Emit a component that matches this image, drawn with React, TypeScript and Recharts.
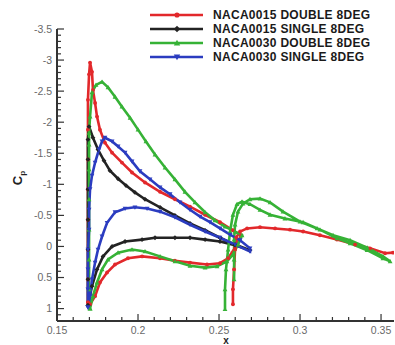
import React from 'react'
import { LineChart, Line, XAxis, YAxis, Legend } from 'recharts'

type Pt = [number, number]

// x, Cp pairs (loops: upper surface LE->TE, lower TE->LE)
const N15D_MAIN: Pt[] = [
  [0.1691, 0.9], [0.1691, 0.53], [0.1691, 0.05], [0.1691, -0.43], [0.1691, -0.92],
  [0.1691, -1.4], [0.1691, -1.88], [0.1691, -2.36], [0.1698, -2.77], [0.1704, -2.96],
  [0.1716, -2.81], [0.1722, -2.52], [0.1735, -2.31], [0.1747, -2.09], [0.1765, -1.88],
  [0.1796, -1.67], [0.184, -1.51], [0.1901, -1.35], [0.1963, -1.19], [0.2043, -1.03],
  [0.2136, -0.88], [0.2228, -0.76], [0.2321, -0.64], [0.2414, -0.51], [0.2506, -0.39],
  [0.2586, -0.26], [0.2636, -0.18],
  [0.2599, 0.02], [0.2556, 0.19], [0.2506, 0.27], [0.2426, 0.29], [0.2321, 0.26],
  [0.2228, 0.23], [0.2136, 0.19], [0.2025, 0.16], [0.1938, 0.19], [0.1858, 0.29],
  [0.1809, 0.42], [0.1765, 0.58], [0.1735, 0.8], [0.1704, 0.93], [0.1691, 0.9],
]
const N15D_FLAP: Pt[] = [
  [0.2586, 0.93], [0.2586, 0.69], [0.2593, 0.37], [0.2599, 0.05], [0.2605, -0.14],
  [0.263, -0.24], [0.2673, -0.29], [0.2753, -0.31], [0.2846, -0.29], [0.2938, -0.27],
  [0.3019, -0.24], [0.3123, -0.18], [0.3228, -0.11], [0.334, -0.03], [0.3432, 0.03],
  [0.3525, 0.11], [0.3574, 0.1],
]
const N15S: Pt[] = [
  [0.1691, 0.95], [0.1691, 0.53], [0.1691, 0.05], [0.1691, -0.43], [0.1691, -0.92],
  [0.1691, -1.4], [0.1691, -1.72], [0.1698, -1.93], [0.1722, -1.75], [0.1753, -1.56],
  [0.179, -1.38], [0.1827, -1.22], [0.1877, -1.09], [0.1926, -0.98], [0.1981, -0.87],
  [0.2043, -0.76], [0.2136, -0.63], [0.2228, -0.5], [0.2321, -0.37], [0.2414, -0.26],
  [0.2506, -0.14], [0.2599, -0.03], [0.2691, 0.06],
  [0.2599, -0.02], [0.2506, -0.08], [0.2414, -0.11], [0.2321, -0.14], [0.2228, -0.14],
  [0.2105, -0.14], [0.2025, -0.11], [0.192, -0.08], [0.184, 0.0], [0.1784, 0.16],
  [0.1747, 0.37], [0.1716, 0.64], [0.1691, 0.95],
]
const N30D_MAIN: Pt[] = [
  [0.1704, 1.0], [0.1698, 0.69], [0.1698, 0.21], [0.1698, -0.27], [0.1698, -0.76],
  [0.1698, -1.24], [0.1698, -1.64], [0.1698, -1.83], [0.1704, -2.09], [0.1716, -2.48],
  [0.1741, -2.6], [0.1778, -2.65], [0.1815, -2.56], [0.1858, -2.41], [0.1901, -2.25],
  [0.1951, -2.07], [0.2, -1.88], [0.2049, -1.69], [0.2105, -1.48], [0.2167, -1.27],
  [0.2228, -1.08], [0.229, -0.88], [0.2352, -0.71], [0.2414, -0.55], [0.2475, -0.42],
  [0.2537, -0.32], [0.2599, -0.24], [0.2642, -0.18],
  [0.2617, -0.03], [0.2586, 0.13], [0.2549, 0.24], [0.2488, 0.32], [0.2414, 0.34],
  [0.2321, 0.31], [0.2228, 0.24], [0.2136, 0.16], [0.2043, 0.08], [0.1963, 0.05],
  [0.1877, 0.1], [0.1815, 0.21], [0.1778, 0.37], [0.1747, 0.58], [0.1722, 0.8],
  [0.1704, 1.0],
]
const N30D_FLAP: Pt[] = [
  [0.2537, 1.01], [0.2537, 0.69], [0.2543, 0.37], [0.2556, 0.05], [0.2568, -0.24],
  [0.2586, -0.51], [0.2611, -0.68], [0.2642, -0.72], [0.2691, -0.68], [0.2753, -0.59],
  [0.2815, -0.51], [0.2907, -0.45], [0.3019, -0.39], [0.3123, -0.27], [0.3228, -0.13],
  [0.3309, -0.05], [0.3414, 0.06], [0.3512, 0.19], [0.3556, 0.24],
  [0.3512, 0.16], [0.3414, 0.02], [0.3309, -0.1], [0.3204, -0.18], [0.3105, -0.29],
  [0.3, -0.4], [0.2895, -0.56], [0.2815, -0.71], [0.2753, -0.77], [0.2691, -0.76],
  [0.2648, -0.69], [0.2617, -0.56], [0.2599, -0.35], [0.2593, -0.11], [0.2593, 0.21],
  [0.2593, 0.53],
]
const N30S: Pt[] = [
  [0.1691, 0.98], [0.1691, 0.69], [0.1691, 0.37], [0.1691, 0.05], [0.1698, -0.27],
  [0.1698, -0.59], [0.1704, -0.92], [0.1716, -1.14], [0.1735, -1.35], [0.1759, -1.56],
  [0.1778, -1.69], [0.1796, -1.75], [0.184, -1.69], [0.1877, -1.61], [0.192, -1.51],
  [0.1963, -1.37], [0.2012, -1.21], [0.2074, -1.08], [0.2136, -0.95], [0.2198, -0.84],
  [0.2259, -0.71], [0.2321, -0.59], [0.2383, -0.48], [0.2444, -0.39], [0.2506, -0.29],
  [0.2568, -0.19], [0.263, -0.1], [0.2691, 0.03],
  [0.2691, 0.08], [0.2599, -0.03], [0.2506, -0.14], [0.2414, -0.24], [0.2321, -0.35],
  [0.2228, -0.47], [0.2136, -0.56], [0.2056, -0.61], [0.1981, -0.63], [0.192, -0.61],
  [0.1858, -0.55], [0.1809, -0.38], [0.1778, -0.16], [0.1753, 0.05], [0.1735, 0.26],
  [0.1716, 0.53], [0.1704, 0.8], [0.1691, 0.98],
]

const X_TICKS = [0.15, 0.2, 0.25, 0.3, 0.35]
const Y_TICKS = [-3.5, -3, -2.5, -2, -1.5, -1, -0.5, 0, 0.5, 1]

// join segments with a null row so the line breaks between elements
const toRows = (...segs: Pt[][]) =>
  segs.flatMap((s, i) => {
    const rows: { x: number; cp: number | null }[] = s.map(([x, cp]) => ({ x, cp }))
    if (i < segs.length - 1) rows.push({ x: s[s.length - 1][0], cp: null })
    return rows
  })

const SERIES = [
  { name: 'NACA0015 DOUBLE 8DEG', color: '#e2282b', shape: 'circle', rows: toRows(N15D_MAIN, N15D_FLAP) },
  { name: 'NACA0015 SINGLE 8DEG', color: '#232323', shape: 'diamond', rows: toRows(N15S) },
  { name: 'NACA0030 DOUBLE 8DEG', color: '#36b236', shape: 'up', rows: toRows(N30D_MAIN, N30D_FLAP) },
  { name: 'NACA0030 SINGLE 8DEG', color: '#2b3cc0', shape: 'down', rows: toRows(N30S) },
]

const withMinors = (majors: number[], n: number, extra: number[] = []) => {
  const out: number[] = []
  majors.forEach((m, i) => {
    out.push(m)
    if (i < majors.length - 1) {
      const step = (majors[i + 1] - m) / n
      for (let k = 1; k < n; k++) out.push(m + k * step)
    }
  })
  return [...out, ...extra]
}

const isMajor = (list: number[], v: number) => list.find(t => Math.abs(t - v) < 1e-6)

const marker = (shape: string, cx: number, cy: number, s: number, color: string) => {
  if (shape === 'circle') return <circle cx={cx} cy={cy} r={s * 0.8} fill={color} />
  if (shape === 'diamond')
    return <polygon points={`${cx},${cy - s} ${cx + s},${cy} ${cx},${cy + s} ${cx - s},${cy}`} fill={color} />
  if (shape === 'up')
    return <polygon points={`${cx},${cy - s} ${cx + s},${cy + s * 0.8} ${cx - s},${cy + s * 0.8}`} fill={color} />
  return <polygon points={`${cx},${cy + s} ${cx + s},${cy - s * 0.8} ${cx - s},${cy - s * 0.8}`} fill={color} />
}

const makeDot = (shape: string, color: string) => (props: any) => {
  const { cx, cy, index, payload } = props
  if (cx == null || cy == null || payload?.cp == null) return <g key={index} />
  return <g key={index}>{marker(shape, cx, cy, 2.4, color)}</g>
}

const tickFont = { fontFamily: 'Liberation Sans, Arial, sans-serif', fontSize: 10.5, fill: '#6a6a6a' }

const YTick = (props: any) => {
  const { x, y, payload } = props
  const major = isMajor(Y_TICKS, payload.value)
  return (
    <g>
      <line x1={x} x2={x + (major !== undefined ? 7 : 4)} y1={y} y2={y} stroke="#333" strokeWidth={1.2} />
      {major !== undefined && (
        <text x={x - 5} y={y} dy="0.35em" textAnchor="end" {...tickFont}>{String(major)}</text>
      )}
    </g>
  )
}

const XTick = (props: any) => {
  const { x, y, payload } = props
  const major = isMajor(X_TICKS, payload.value)
  return (
    <g>
      <line x1={x} x2={x} y1={y} y2={y - (major !== undefined ? 7 : 4)} stroke="#333" strokeWidth={1.2} />
      {major !== undefined && (
        <text x={x} y={y + 9} dy="0.35em" textAnchor="middle" {...tickFont}>{String(major)}</text>
      )}
    </g>
  )
}

const renderLegend = () => (
  <svg width={395} height={70}>
    {SERIES.map((s, i) => {
      const y = 15 + i * 14
      return (
        <g key={s.name}>
          <line x1={150} x2={203} y1={y} y2={y} stroke={s.color} strokeWidth={2.5} />
          {marker(s.shape, 177, y, 3.2, s.color)}
          <text x={213} y={y} dy="0.36em" fontFamily="Liberation Sans, Arial, sans-serif"
            fontWeight="bold" fontSize={12} letterSpacing={0.3} fill="#1a1a1a">{s.name}</text>
        </g>
      )
    })}
  </svg>
)

export default function App() {
  return (
    <div style={{ position: 'absolute', left: 0, top: 0, width: 395, height: 345, background: '#fff' }}>
      <LineChart width={395} height={345} margin={{ top: 29, right: 1, bottom: 0, left: 0 }}>
        <XAxis
          type="number"
          dataKey="x"
          domain={[0.15, 0.358]}
          allowDataOverflow
          ticks={withMinors(X_TICKS, 5)}
          interval={0}
          tickSize={0}
          tickMargin={0}
          tick={<XTick />}
          height={24}
          axisLine={{ stroke: '#333', strokeWidth: 2 }}
          label={() => (
            <text x={226} y={344} textAnchor="middle" fontFamily="Liberation Sans, Arial, sans-serif"
              fontWeight="bold" fontSize={10} fill="#222">x</text>
          )}
        />
        <YAxis
          type="number"
          reversed
          domain={[-3.5, 1.2]}
          allowDataOverflow
          ticks={withMinors(Y_TICKS, 5, [1.1])}
          interval={0}
          tickSize={0}
          tickMargin={0}
          tick={<YTick />}
          width={57}
          axisLine={{ stroke: '#333', strokeWidth: 2 }}
          label={() => (
            <text transform="translate(22,178) rotate(-90)" textAnchor="middle" fontFamily="Liberation Sans, Arial, sans-serif"
              fontWeight="bold" fontSize={13} fill="#222">
              C<tspan fontSize={8} dy={3}>p</tspan>
            </text>
          )}
        />
        <Legend
          layout="vertical"
          align="center"
          verticalAlign="middle"
          content={renderLegend}
          wrapperStyle={{ left: 0, top: 0, width: 395, height: 70 }}
        />
        {SERIES.map(s => (
          <Line
            key={s.name}
            name={s.name}
            data={s.rows}
            dataKey="cp"
            type="linear"
            stroke={s.color}
            strokeWidth={2.6}
            dot={makeDot(s.shape, s.color)}
            activeDot={false}
            connectNulls={false}
            isAnimationActive={false}
          />
        ))}
      </LineChart>
    </div>
  )
}
